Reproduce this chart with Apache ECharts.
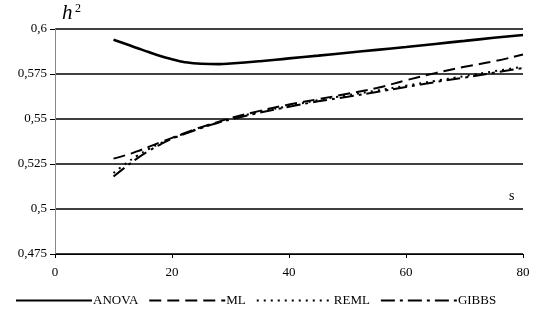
<!DOCTYPE html>
<html>
<head>
<meta charset="utf-8">
<script src="https://cdn.jsdelivr.net/npm/echarts@6/dist/echarts.min.js"></script>
<style>
  html, body {margin: 0; padding: 0; background: #fff;}
  #main {width: 535px; height: 320px;}
</style>
</head>
<body>
<div id="main"></div>
<script>
// sample size s
const sValues = [10, 12, 14, 16, 18, 20, 22, 25, 28, 30, 35, 40, 45, 50, 55, 60, 65, 70, 75, 80];
const anova = [0.594, 0.5918, 0.5895, 0.5872, 0.585, 0.5832, 0.5817, 0.5807, 0.5805, 0.5808, 0.5821, 0.5837, 0.5852, 0.5868, 0.5884, 0.59, 0.5917, 0.5934, 0.5951, 0.5967];
const ml = [0.528, 0.5298, 0.532, 0.5345, 0.537, 0.5395, 0.542, 0.5455, 0.5485, 0.5505, 0.5545, 0.558, 0.561, 0.564, 0.5672, 0.5715, 0.5755, 0.579, 0.582, 0.5858];
const reml = [0.52, 0.525, 0.5295, 0.5333, 0.5365, 0.5393, 0.5418, 0.5452, 0.5482, 0.55, 0.554, 0.5572, 0.5605, 0.5632, 0.5658, 0.5685, 0.5712, 0.5738, 0.5765, 0.579];
const gibbs = [0.518, 0.5232, 0.528, 0.5322, 0.5358, 0.539, 0.5415, 0.545, 0.548, 0.5497, 0.5535, 0.5568, 0.5598, 0.5623, 0.565, 0.5678, 0.5705, 0.573, 0.5757, 0.5783];
const yTicks = [0.475, 0.5, 0.525, 0.55, 0.575, 0.6];

const serif = 'Liberation Serif';
const pairs = arr => sValues.map((s, i) => [s, arr[i]]);

const chart = echarts.init(document.getElementById('main'));
chart.setOption({
  animation: false,
  grid: {left: 55, right: 12, top: 29, bottom: 66},
  legend: {
    bottom: 8,
    left: 10,
    itemWidth: 76,
    itemHeight: 10,
    itemGap: 10,
    itemStyle: {opacity: 0},
    textStyle: {fontFamily: serif, fontSize: 13, color: '#000', padding: [0, 0, 0, -4]},
    data: ['ANOVA', 'ML', 'REML', 'GIBBS']
  },
  xAxis: {
    type: 'value',
    min: 0,
    max: 80,
    interval: 20,
    axisLine: {lineStyle: {color: '#000', width: 1}},
    axisTick: {length: 4, lineStyle: {color: '#000'}},
    axisLabel: {fontFamily: serif, fontSize: 13, color: '#000', margin: 12},
    splitLine: {show: false}
  },
  yAxis: {
    type: 'value',
    min: yTicks[0],
    max: yTicks[yTicks.length - 1],
    interval: 0.025,
    axisLine: {show: true, lineStyle: {color: '#888', width: 1}},
    axisTick: {show: true, length: 5, lineStyle: {color: '#000'}},
    axisLabel: {
      fontFamily: serif, fontSize: 13, color: '#000', margin: 8,
      formatter: v => String(parseFloat(v.toFixed(3))).replace('.', ',')
    },
    splitLine: {show: true, lineStyle: {color: '#000', width: 1.5}}
  },
  graphic: [
    {type: 'text', left: 62, top: 3, style: {text: 'h', font: 'italic 21px "Liberation Serif"', fill: '#000'}},
    {type: 'text', left: 75, top: 3, style: {text: '2', font: '12px "Liberation Serif"', fill: '#000'}},
    {type: 'text', left: 509, top: 189, style: {text: 's', font: '14px "Liberation Serif"', fill: '#000'}}
  ],
  series: [
    {name: 'ANOVA', type: 'line', smooth: true, symbol: 'none', data: pairs(anova),
      lineStyle: {color: '#000', width: 2.6, type: 'solid'}, itemStyle: {color: '#000'}},
    {name: 'ML', type: 'line', smooth: true, symbol: 'none', data: pairs(ml),
      lineStyle: {color: '#000', width: 2, type: [12, 6]}, itemStyle: {color: '#000'}},
    {name: 'REML', type: 'line', smooth: true, symbol: 'none', data: pairs(reml),
      lineStyle: {color: '#000', width: 2, type: [2, 5]}, itemStyle: {color: '#000'}},
    {name: 'GIBBS', type: 'line', smooth: true, symbol: 'none', data: pairs(gibbs),
      lineStyle: {color: '#000', width: 2, type: [14, 5, 3, 5]}, itemStyle: {color: '#000'}}
  ]
});
</script>
</body>
</html>
